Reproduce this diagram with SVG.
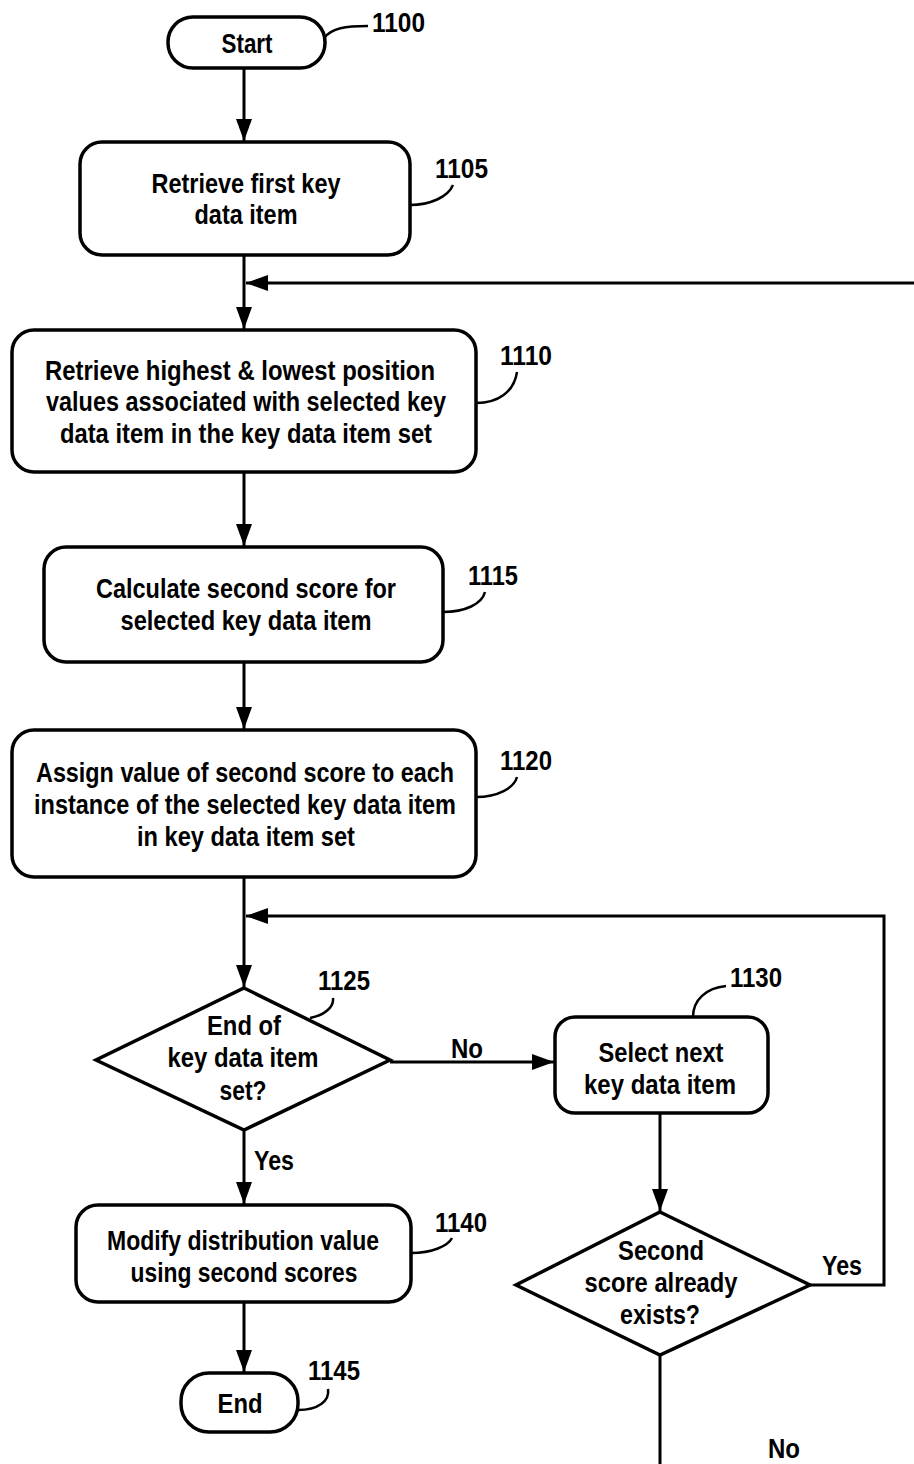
<svg xmlns="http://www.w3.org/2000/svg" width="914" height="1464" viewBox="0 0 914 1464">
<defs>
<style>
.shape{fill:#fff;stroke:#000;stroke-width:3.5}
.ln{fill:none;stroke:#000;stroke-width:3}
.lead{fill:none;stroke:#000;stroke-width:2.5}
text{font-family:"Liberation Sans Narrow","Liberation Sans",Arial,sans-serif;font-weight:bold;font-size:28px;fill:#000}
.c{text-anchor:middle}
.tall{font-size:22px}
</style>
<marker id="arr" markerUnits="userSpaceOnUse" markerWidth="24" markerHeight="16" refX="22" refY="8" orient="auto">
<path d="M0,0 L22,8 L0,16 Z" fill="#000"/>
</marker>
</defs>
<rect width="914" height="1464" fill="#fff"/>

<g id="connectors">
<line class="ln" x1="244" y1="68" x2="244" y2="141" marker-end="url(#arr)"/>
<line class="ln" x1="244" y1="255" x2="244" y2="329" marker-end="url(#arr)"/>
<line class="ln" x1="914" y1="283" x2="246" y2="283" marker-end="url(#arr)"/>
<line class="ln" x1="244" y1="472" x2="244" y2="546" marker-end="url(#arr)"/>
<line class="ln" x1="244" y1="662" x2="244" y2="729" marker-end="url(#arr)"/>
<line class="ln" x1="244" y1="877" x2="244" y2="987" marker-end="url(#arr)"/>
<path class="ln" d="M810,1285 H884 V916 H246" marker-end="url(#arr)"/>
<line class="ln" x1="390" y1="1062" x2="554" y2="1062" marker-end="url(#arr)"/>
<line class="ln" x1="660" y1="1113" x2="660" y2="1211" marker-end="url(#arr)"/>
<line class="ln" x1="244" y1="1130" x2="244" y2="1204" marker-end="url(#arr)"/>
<line class="ln" x1="244" y1="1302" x2="244" y2="1372" marker-end="url(#arr)"/>
<line class="ln" x1="660" y1="1355" x2="660" y2="1464"/>
<text x="451" y="1058" textLength="32" lengthAdjust="spacingAndGlyphs">No</text>
<text x="254" y="1170" textLength="40" lengthAdjust="spacingAndGlyphs">Yes</text>
<text x="822" y="1275" textLength="40" lengthAdjust="spacingAndGlyphs">Yes</text>
<text x="768" y="1458" textLength="32" lengthAdjust="spacingAndGlyphs">No</text>
</g>

<g id="n1100">
<rect class="shape" x="168" y="17" width="157" height="51" rx="25"/>
<text class="c" x="247" y="53" textLength="51" lengthAdjust="spacingAndGlyphs">Start</text>
<path class="lead" d="M324,38 C332,28 345,26 368,26"/>
<text x="372" y="32" textLength="53" lengthAdjust="spacingAndGlyphs">1100</text>
</g>

<g id="n1105">
<rect class="shape" x="80" y="142" width="330" height="113" rx="22"/>
<text class="c" x="246" y="193" textLength="189" lengthAdjust="spacingAndGlyphs">Retrieve first key</text>
<text class="c" x="246" y="224" textLength="103" lengthAdjust="spacingAndGlyphs">data item</text>
<path class="lead" d="M410,205 C430,205 448,197 453,185"/>
<text x="435" y="178" textLength="53" lengthAdjust="spacingAndGlyphs">1105</text>
</g>

<g id="n1110">
<rect class="shape" x="12" y="330" width="464" height="142" rx="22"/>
<text class="c" x="240" y="380" textLength="390" lengthAdjust="spacingAndGlyphs">Retrieve highest &amp; lowest position</text>
<text class="c" x="246" y="411" textLength="400" lengthAdjust="spacingAndGlyphs">values associated with selected key</text>
<text class="c" x="246" y="443" textLength="372" lengthAdjust="spacingAndGlyphs">data item in the key data item set</text>
<path class="lead" d="M476,403 C498,403 514,392 517,372"/>
<text x="500" y="365" textLength="52" lengthAdjust="spacingAndGlyphs">1110</text>
</g>

<g id="n1115">
<rect class="shape" x="44" y="547" width="399" height="115" rx="22"/>
<text class="c" x="246" y="598" textLength="300" lengthAdjust="spacingAndGlyphs">Calculate second score for</text>
<text class="c" x="246" y="630" textLength="251" lengthAdjust="spacingAndGlyphs">selected key data item</text>
<path class="lead" d="M443,612 C465,612 482,604 485,592"/>
<text x="468" y="585" textLength="50" lengthAdjust="spacingAndGlyphs">1115</text>
</g>

<g id="n1120">
<rect class="shape" x="12" y="730" width="464" height="147" rx="22"/>
<text class="c tall" transform="translate(245 782) scale(1 1.2727)" x="0" y="0" textLength="418" lengthAdjust="spacingAndGlyphs">Assign value of second score to each</text>
<text class="c tall" transform="translate(245 814) scale(1 1.2727)" x="0" y="0" textLength="422" lengthAdjust="spacingAndGlyphs">instance of the selected key data item</text>
<text class="c" x="246" y="846" textLength="218" lengthAdjust="spacingAndGlyphs">in key data item set</text>
<path class="lead" d="M476,797 C498,797 514,788 517,777"/>
<text x="500" y="770" textLength="52" lengthAdjust="spacingAndGlyphs">1120</text>
</g>

<g id="n1125">
<polygon class="shape" points="244,988 390,1060 244,1130 96,1060"/>
<text class="c" x="244" y="1035" textLength="74" lengthAdjust="spacingAndGlyphs">End of</text>
<text class="c" x="243" y="1067" textLength="151" lengthAdjust="spacingAndGlyphs">key data item</text>
<text class="c" x="243" y="1100" textLength="47" lengthAdjust="spacingAndGlyphs">set?</text>
<path class="lead" d="M310,1018 C325,1015 334,1007 333,998"/>
<text x="318" y="990" textLength="52" lengthAdjust="spacingAndGlyphs">1125</text>
</g>

<g id="n1130">
<rect class="shape" x="555" y="1017" width="213" height="96" rx="20"/>
<text class="c" x="661" y="1062" textLength="125" lengthAdjust="spacingAndGlyphs">Select next</text>
<text class="c" x="660" y="1094" textLength="152" lengthAdjust="spacingAndGlyphs">key data item</text>
<path class="lead" d="M693,1017 C693,1000 706,988 726,986"/>
<text x="730" y="987" textLength="52" lengthAdjust="spacingAndGlyphs">1130</text>
</g>

<g id="n1135">
<polygon class="shape" points="660,1212 810,1285 660,1355 516,1285"/>
<text class="c" x="661" y="1260" textLength="86" lengthAdjust="spacingAndGlyphs">Second</text>
<text class="c" x="661" y="1292" textLength="153" lengthAdjust="spacingAndGlyphs">score already</text>
<text class="c" x="660" y="1324" textLength="80" lengthAdjust="spacingAndGlyphs">exists?</text>
</g>

<g id="n1140">
<rect class="shape" x="76" y="1205" width="335" height="97" rx="22"/>
<text class="c" x="243" y="1250" textLength="272" lengthAdjust="spacingAndGlyphs">Modify distribution value</text>
<text class="c" x="244" y="1282" textLength="227" lengthAdjust="spacingAndGlyphs">using second scores</text>
<path class="lead" d="M411,1253 C432,1253 448,1246 452,1238"/>
<text x="435" y="1232" textLength="52" lengthAdjust="spacingAndGlyphs">1140</text>
</g>

<g id="n1145">
<rect class="shape" x="181" y="1373" width="117" height="59" rx="28"/>
<text class="c" x="240" y="1413" textLength="45" lengthAdjust="spacingAndGlyphs">End</text>
<path class="lead" d="M298,1410 C318,1410 330,1401 328,1389"/>
<text x="308" y="1380" textLength="52" lengthAdjust="spacingAndGlyphs">1145</text>
</g>
</svg>
